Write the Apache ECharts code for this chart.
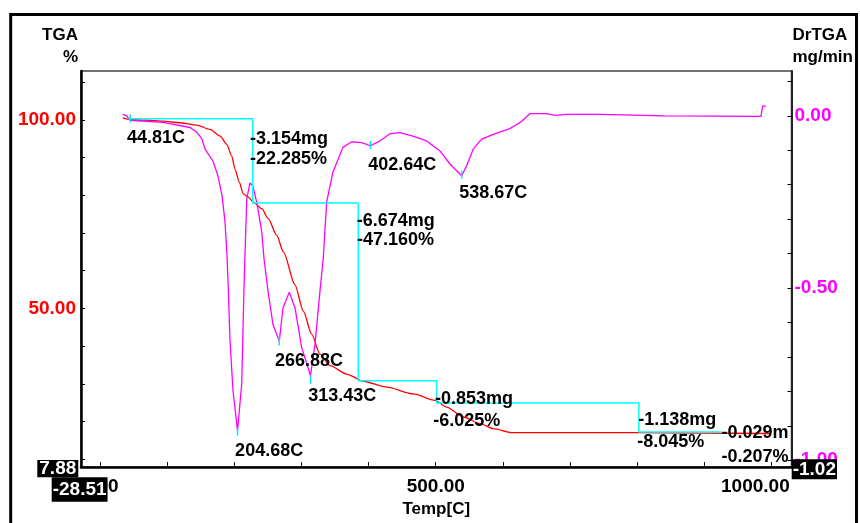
<!DOCTYPE html>
<html><head><meta charset="utf-8">
<script src="https://cdn.jsdelivr.net/npm/echarts@6/dist/echarts.min.js"></script>
<style>html,body{margin:0;padding:0;background:#fff}#c{width:860px;height:523px}</style>
</head><body><div id="c"></div><script>
// ---- data ----
const tempTGA = [33.7, 44.5, 69.4, 93.7, 119.0, 143.9, 163.7, 178.8, 188.6, 196.0, 200.9, 207.3, 213.3, 220.7, 228.2, 240.7, 250.5, 263.0, 272.9, 290.3, 302.7, 315.2, 327.5, 342.4, 367.3, 392.0, 426.9, 466.5, 498.8, 516.2, 541.0, 565.8, 585.6, 613.0, 801.2, 893.5, 997.8];
const tgaPct  = [100.58, 100.13, 99.95, 99.68, 99.26, 98.63, 97.5, 95.74, 93.55, 90.47, 86.97, 83.47, 80.39, 79.53, 78.21, 76.45, 73.82, 69.42, 65.05, 56.26, 49.26, 43.11, 37.84, 34.79, 32.58, 30.66, 29.08, 27.32, 25.58, 23.82, 21.18, 19.42, 18.11, 17.05, 17.05, 16.9, 16.8];

const tempDr = [33.7, 40.1, 44.5, 93.7, 133.9, 144.3, 151.8, 156.3, 168.2, 175.6, 181.6, 186.0, 189.0, 190.9, 193.5, 197.9, 204.68, 210.9, 214.3, 218.4, 223.3, 227.3, 233.2, 240.7, 244.1, 250.1, 257.5, 266.88, 272.4, 281.8, 290.3, 300.3, 313.43, 320.1, 327.5, 332.4, 337.5, 346.9, 361.8, 374.7, 389.6, 402.64, 414.4, 431.8, 446.7, 466.0, 486.4, 506.3, 521.1, 538.67, 546.0, 555.8, 568.4, 585.6, 610.5, 625.4, 640.3, 665.2, 677.6, 695.0, 744.6, 841.4, 843.0, 984.5, 987.0, 992.0];
const drtga  = [0.005, -0.001, -0.013, -0.019, -0.034, -0.048, -0.068, -0.097, -0.132, -0.175, -0.232, -0.307, -0.405, -0.500, -0.653, -0.797, -0.915, -0.778, -0.500, -0.241, -0.195, -0.203, -0.250, -0.336, -0.414, -0.509, -0.606, -0.655, -0.558, -0.512, -0.558, -0.673, -0.754, -0.663, -0.509, -0.414, -0.250, -0.163, -0.091, -0.076, -0.078, -0.087, -0.076, -0.052, -0.049, -0.059, -0.073, -0.102, -0.140, -0.174, -0.145, -0.097, -0.068, -0.054, -0.037, -0.020, 0.006, 0.006, 0.001, 0.004, 0.004, 0.000, -0.002, -0.002, 0.028, 0.028];

// stepwise mass-loss levels (TGA %)
const stepTemp = [42.0, 227.3, 384.6, 501.3, 802.6, 925.0];
const stepPct  = [100.3, 78.0, 30.8, 24.9, 17.2, 17.0];

// DrTGA peak markers
const peakTemp = [44.81, 204.68, 266.88, 313.43, 402.64, 538.67];
const peakDr   = [-0.008, -0.917, -0.655, -0.766, -0.085, -0.171];

// annotation texts and their anchors (temp, TGA %)
const annoText = ['44.81C', '-3.154mg', '-22.285%', '-6.674mg', '-47.160%', '402.64C', '538.67C', '266.88C', '313.43C', '204.68C', '-0.853mg', '-6.025%', '-1.138mg', '-8.045%', '-0.029m', '-0.207%'];
const annoTemp = [40.0, 223.3, 223.3, 382.2, 382.6, 399.5, 534.9, 260.5, 310.1, 201.1, 498.8, 496.3, 801.6, 800.1, 925.8, 925.8];
const annoPct  = [95.29, 94.95, 89.69, 73.17, 68.03, 88.08, 80.61, 36.08, 26.87, 12.11, 25.83, 20.13, 20.37, 14.45, 17.0, 10.66];

// axis ticks / labels
const xTicks = [0, 100, 200, 300, 400, 500, 600, 700, 800, 900, 1000];
const xLabels = [0, 500, 1000];
const leftTicks = [10, 20, 30, 40, 50, 60, 70, 80, 90, 100, 110];
const leftLabels = [50, 100];
const rightTicks = [0.1, 0, -0.1, -0.2, -0.3, -0.4, -0.5, -0.6, -0.7, -0.8, -0.9, -1.0];
const rightLabels = [0, -0.5, -1.0];
const xMin = -28.51, xMax = 1030;
const leftMin = 7.88, leftMax = 113.0;
const rightMin = -1.02, rightMax = 0.130;

// ---- chart ----
const FF = "'Liberation Sans', Arial, sans-serif";
const zip = (a, b) => a.map((v, i) => [v, b[i]]);
const chart = echarts.init(document.getElementById('c'), null, {renderer: 'canvas'});
chart.setOption({
  animation: false,
  backgroundColor: '#fff',
  grid: {left: 81, right: 68.5, top: 71, bottom: 52.4, show: true, borderColor: '#444', borderWidth: 1.5, backgroundColor: 'transparent'},
  xAxis: {
    type: 'value', min: xMin, max: xMax,
    axisLine: {show: true, onZero: false, lineStyle: {color: '#000', width: 2.5}},
    axisTick: {show: true, inside: true, length: 5, customValues: xTicks, lineStyle: {color: '#000', width: 1}},
    axisLabel: {
      customValues: xLabels, margin: 10, color: '#000', fontSize: 19, fontWeight: 'bold', fontFamily: FF,
      formatter: v => v === 1000 ? '{r|1000.00}' : v.toFixed(2),
      rich: {r: {fontSize: 19, fontWeight: 'bold', fontFamily: FF, color: '#000', padding: [0, 32, 0, 0]}}
    },
    splitLine: {show: false},
    name: 'Temp[C]', nameLocation: 'middle', nameGap: 29,
    nameTextStyle: {color: '#000', fontSize: 17, fontWeight: 'bold', fontFamily: FF}
  },
  yAxis: [{
    type: 'value', min: leftMin, max: leftMax, position: 'left',
    axisLine: {show: true, onZero: false, lineStyle: {color: '#000', width: 2.5}},
    axisTick: {show: true, inside: true, length: 4, customValues: leftTicks, lineStyle: {color: '#000', width: 1}},
    axisLabel: {customValues: leftLabels, margin: 5, color: '#ff0000', fontSize: 19, fontWeight: 'bold', fontFamily: FF, formatter: v => v.toFixed(2)},
    splitLine: {show: false},
    name: 'TGA\n%', nameLocation: 'end', nameGap: 3,
    nameTextStyle: {color: '#000', fontSize: 17, fontWeight: 'bold', fontFamily: FF, align: 'right', verticalAlign: 'bottom', lineHeight: 21.5, padding: [0, 3, 0, 0]}
  }, {
    type: 'value', min: rightMin, max: rightMax, position: 'right',
    axisLine: {show: true, onZero: false, lineStyle: {color: '#222', width: 2}},
    axisTick: {show: true, inside: true, length: 4, customValues: rightTicks, lineStyle: {color: '#000', width: 1}},
    axisLabel: {customValues: rightLabels, margin: 3, color: '#ff00ff', fontSize: 19, fontWeight: 'bold', fontFamily: FF, formatter: v => v.toFixed(2)},
    splitLine: {show: false},
    name: 'DrTGA\nmg/min', nameLocation: 'end', nameGap: 3,
    nameTextStyle: {color: '#000', fontSize: 17, fontWeight: 'bold', fontFamily: FF, align: 'left', verticalAlign: 'bottom', lineHeight: 21.5, padding: [0, 0, 0, 1]}
  }],
  series: [{
    name: 'TGA', type: 'line', yAxisIndex: 0, data: zip(tempTGA, tgaPct), showSymbol: false, symbol: 'none',
    smooth: 0.25, smoothMonotone: 'x', lineStyle: {color: '#ff0000', width: 1.3}, z: 3
  }, {
    name: 'DrTGA', type: 'line', yAxisIndex: 1, data: zip(tempDr, drtga), showSymbol: false, symbol: 'none',
    lineStyle: {color: '#ff00ff', width: 1.3}, z: 3
  }, {
    name: 'steps', type: 'line', yAxisIndex: 0, data: zip(stepTemp, stepPct), step: 'end', showSymbol: false, symbol: 'none',
    lineStyle: {color: '#00ffff', width: 1.5}, z: 4
  }, {
    name: 'peaks', type: 'scatter', yAxisIndex: 1, data: zip(peakTemp, peakDr), symbol: 'rect', symbolSize: [1.5, 8],
    itemStyle: {color: '#00e8f0', opacity: 1}, z: 5
  }, {
    name: 'annotations', type: 'scatter', yAxisIndex: 0,
    data: annoTemp.map((t, i) => [t, annoPct[i], annoText[i]]),
    symbolSize: 0, z: 6, itemStyle: {opacity: 1},
    label: {show: true, position: 'right', distance: 0, opacity: 1, formatter: p => p.value[2], color: '#000', fontSize: 18, fontWeight: 'bold', fontFamily: FF}
  }],
  graphic: [
    {type: 'rect', z: 100, shape: {x: 10.7, y: 14.5, width: 845.8, height: 600}, style: {fill: 'none', stroke: '#000', lineWidth: 3}},
    {type: 'text', z: 100, x: 37.3, y: 460, style: {text: '7.88', fill: '#fff', backgroundColor: '#000', padding: [0, 2, 0, 2], lineHeight: 17.3, fontSize: 19, fontWeight: 'bold', fontFamily: FF, align: 'left', verticalAlign: 'top'}},
    {type: 'text', z: 100, x: 51.7, y: 477.3, style: {text: '-28.51', fill: '#fff', backgroundColor: '#000', padding: [0, 1, 0, 1], lineHeight: 24.4, fontSize: 19, fontWeight: 'bold', fontFamily: FF, align: 'left', verticalAlign: 'top'}},
    {type: 'text', z: 100, x: 791.7, y: 459.3, style: {text: '-1.02', fill: '#fff', backgroundColor: '#000', padding: [0, 1, 0, 1], lineHeight: 20, fontSize: 19, fontWeight: 'bold', fontFamily: FF, align: 'left', verticalAlign: 'top'}}
  ]
});
</script></body></html>
